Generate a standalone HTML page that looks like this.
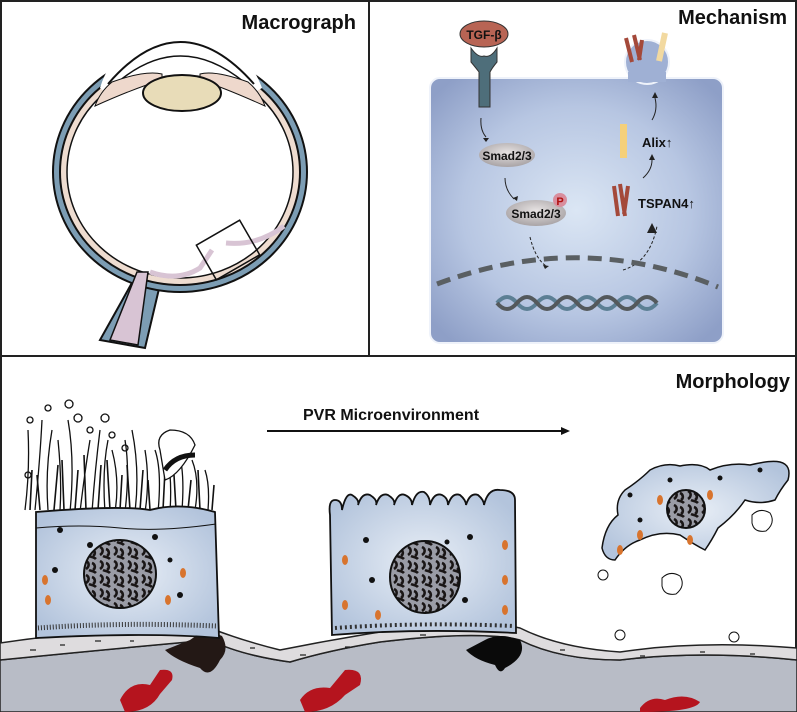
<!DOCTYPE html>
<html><head><meta charset="utf-8"><style>
html,body{margin:0;padding:0;background:#fff;}
svg{display:block;}
text{font-family:"Liberation Sans",sans-serif;font-weight:bold;}
</style></head><body>
<svg width="797" height="712" viewBox="0 0 797 712" xmlns="http://www.w3.org/2000/svg">
<defs>
<radialGradient id="cellg" cx="0.5" cy="0.5" r="0.65">
<stop offset="0" stop-color="#dbe6f4"/><stop offset="0.6" stop-color="#b7c6e2"/><stop offset="1" stop-color="#8e9fc7"/></radialGradient>
<radialGradient id="smad" cx="0.5" cy="0.4" r="0.6"><stop offset="0" stop-color="#e6e2e2"/><stop offset="1" stop-color="#a9a4a6"/></radialGradient>
<radialGradient id="rpe" cx="0.5" cy="0.5" r="0.6"><stop offset="0" stop-color="#e8eef6"/><stop offset="1" stop-color="#b3c4dc"/></radialGradient>
<pattern id="nuc" width="14" height="14" patternUnits="userSpaceOnUse"><rect width="14" height="14" fill="#9a9ca6"/><path d="M2 1c4 2 3 6 0 8M8 3c3 1 4 5 1 7M5 10c2 1 5 1 7 3" stroke="#1a1616" stroke-width="2.6" fill="none"/></pattern>
</defs>
<rect width="797" height="712" fill="#fff"/>
<rect x="1" y="1" width="795" height="710" fill="none" stroke="#222" stroke-width="2"/>
<line x1="369" y1="0" x2="369" y2="356" stroke="#222" stroke-width="2"/>
<line x1="0" y1="356" x2="797" y2="356" stroke="#222" stroke-width="2"/>

<!-- MACROGRAPH -->
<text x="356" y="29" font-size="20" text-anchor="end" fill="#111">Macrograph</text>
<g stroke="#111" stroke-width="2">
<path d="M138 272 L100 340 L145 348 L162 276 Z" fill="#7c9db4"/>
<ellipse cx="180" cy="172" rx="127" ry="120" fill="#7c9db4"/>
<ellipse cx="180" cy="172" rx="120" ry="113" fill="#eedcd0"/>
<ellipse cx="180" cy="172" rx="113" ry="106" fill="#fff" stroke-width="1.5"/>
<path d="M100 88 Q108 60 130 50 L230 50 Q252 60 262 88 L255 92 L105 92 Z" fill="#fff" stroke="none"/>
<path d="M108 84 Q180 0 254 84" fill="none"/>
<path d="M118 82 Q180 30 244 82" fill="none" stroke-width="1.5"/>
<path d="M112 82 Q145 70 162 74 L162 80 Q135 88 95 106 Q100 92 112 82 Z" fill="#eed8cc" stroke-width="1"/>
<path d="M248 82 Q215 70 200 74 L200 80 Q225 88 265 106 Q260 92 248 82 Z" fill="#eed8cc" stroke-width="1"/>
<ellipse cx="182" cy="93" rx="39" ry="18" fill="#e8dcb8"/>
<path d="M137 272 L110 340 L138 345 L148 272 Z" fill="#d8c4d4" stroke-width="1.5"/>
<path d="M150 272 Q178 282 200 268 L212 250" fill="none" stroke="#d8c4d4" stroke-width="5"/>
<path d="M226 243 Q258 246 284 226" fill="none" stroke="#d8c4d4" stroke-width="5"/>
<rect x="203" y="230" width="50" height="40" fill="none" stroke-width="1.5" transform="rotate(-30 228 250)"/>
</g>

<!-- MECHANISM -->
<text x="787" y="24" font-size="20" text-anchor="end" fill="#111">Mechanism</text>
<rect x="430" y="78" width="293" height="265" rx="10" fill="url(#cellg)" stroke="#eef2fa" stroke-width="2"/>
<circle cx="647" cy="62" r="22" fill="#9fb0d4" stroke="#eef2fa" stroke-width="2"/>
<rect x="628" y="72" width="38" height="10" fill="#9fb0d4"/>
<path d="M665 33 l-6 28" stroke="#f2d9a0" stroke-width="6"/>
<path d="M626 38 l6 24 M634 35 l6 25 M642 40 l-3 20" stroke="#a4493a" stroke-width="4"/>
<ellipse cx="484" cy="34" rx="24" ry="13" fill="#b86454" stroke="#333" stroke-width="1"/>
<text x="484" y="39" font-size="12" text-anchor="middle" fill="#111">TGF-β</text>
<path d="M471 48 Q478 58 484 56 Q491 58 497 48 L497 62 Q492 68 490 72 L490 107 L479 107 L479 72 Q476 68 471 62Z" fill="#4e6e7a" stroke="#333" stroke-width="1"/>
<g fill="none" stroke="#222" stroke-width="1">
<path d="M481 118 Q480 130 486 137"/><path d="M505 178 Q505 190 514 199"/>
<path d="M530 237 Q535 258 546 266" stroke-dasharray="3 2"/>
<path d="M623 270 Q650 262 657 226" stroke-dasharray="3 2"/>
<path d="M643 178 Q652 170 652 160"/><path d="M652 120 Q658 110 655 98"/>
</g>
<g fill="#222"><path d="M483 138l6 0-3 4z"/><path d="M513 198l5 -2 -1 5z"/><path d="M543 265l6 1-4 3z"/><path d="M652 223l-5 10h10z"/><path d="M649 160l6 0-3-6z"/><path d="M652 98l6 0-3-6z"/></g>
<ellipse cx="507" cy="155" rx="28" ry="12" fill="url(#smad)"/>
<text x="507" y="160" font-size="12" text-anchor="middle" fill="#111">Smad2/3</text>
<ellipse cx="536" cy="213" rx="30" ry="13" fill="url(#smad)"/>
<circle cx="560" cy="200" r="7" fill="#d88e9e"/>
<text x="560" y="205" font-size="11" text-anchor="middle" fill="#b01010">P</text>
<text x="536" y="218" font-size="12" text-anchor="middle" fill="#111">Smad2/3</text>
<rect x="620" y="124" width="7" height="34" fill="#f5d07a"/>
<text x="642" y="147" font-size="13" fill="#111">Alix↑</text>
<text x="638" y="208" font-size="13" fill="#111">TSPAN4↑</text>
<path d="M614 186 l4 30 M620 184 l5 32 M628 186 l-4 28" stroke="#a4493a" stroke-width="4"/>
<path d="M437 284 Q580 230 718 287" fill="none" stroke="#5a5f62" stroke-width="5" stroke-dasharray="14 8"/>
<g fill="none" stroke-width="4">
<path d="M497 303 q10 -12 20 0 t20 0 t20 0 t20 0 t20 0 t20 0 t20 0 t20 0" stroke="#5c7f94"/>
<path d="M497 303 q10 12 20 0 t20 0 t20 0 t20 0 t20 0 t20 0 t20 0 t20 0" stroke="#54595c"/>
</g>

<!-- MORPHOLOGY -->
<text x="790" y="388" font-size="20" text-anchor="end" fill="#111">Morphology</text>
<text x="303" y="420" font-size="16" fill="#111">PVR Microenvironment</text>
<line x1="267" y1="431" x2="565" y2="431" stroke="#111" stroke-width="2"/>
<path d="M570 431 l-9 -4 v8z" fill="#111"/>
<path d="M0 660 Q100 650 210 640 Q240 655 290 662 Q330 650 380 642 Q480 630 520 640 Q560 660 620 660 Q700 650 797 660 V712 H0Z" fill="#b8bcc6" stroke="#222" stroke-width="1.5"/>
<path d="M0 643 Q100 628 210 628 Q240 640 280 650 Q330 640 380 632 Q480 618 520 628 Q560 648 620 652 Q700 640 797 648 V660 Q700 650 620 660 Q560 660 520 640 Q480 630 380 642 Q330 650 290 662 Q240 655 210 640 Q100 650 0 660Z" fill="#dedcde" stroke="#222" stroke-width="1.5"/>
<g stroke="#222" stroke-width="1.2" fill="none"><path d="M30 650h6M60 645h5M95 641h6M130 641h4M250 648h5M300 655h6M345 647h5M420 635h6M560 650h5M640 656h5M700 652h5M750 654h5"/></g>
<path d="M190 640 Q205 628 222 636 Q230 650 220 660 Q210 680 200 668 Q175 660 165 650Z" fill="#231815"/>
<path d="M485 640 Q500 632 520 640 Q528 656 505 668 Q500 676 495 665 Q475 660 466 650Z" fill="#0a0a0a"/>
<path d="M120 700 Q130 680 150 685 L160 670 Q175 668 172 680 L160 694 Q150 712 125 712Z" fill="#b5141e"/>
<path d="M300 700 Q310 685 330 688 L345 670 Q365 668 360 685 L345 695 Q330 712 305 712Z" fill="#b5141e"/>
<path d="M640 708 Q650 695 665 700 Q685 692 700 702 Q695 712 640 712Z" fill="#b5141e"/>
<g stroke="#111" stroke-width="1.3" fill="none">
<path d="M25 510 Q30 470 28 430M35 510 Q40 460 42 420M48 510 Q45 470 52 430M60 510 Q62 480 58 440M70 512 Q75 460 68 420M80 512 Q85 470 90 440M92 512 Q95 470 100 430M105 512 Q102 470 108 440M115 512 Q120 480 112 450M125 512 Q130 470 125 440M135 512 Q140 470 132 430M145 512 Q150 480 145 450M158 512 Q162 470 155 450M170 512 Q172 480 168 460M182 510 Q185 470 178 450M195 510 Q200 480 192 460M208 510 Q210 485 205 470"/>
<path d="M30 510 l2-40M40 510 l-3-35M54 510 l4-45M64 510 l-2-50M75 510 l3-40M86 510 l-2-55M98 510 l3-45M110 510 l-3-50M120 510 l2-35M130 510 l-3-45M140 510 l3-40M150 510 l-2-30M163 510 l2-40M176 510 l-2-35M188 510 l3-30M200 510 l-2-40M212 510 l2-25" stroke-width="1.6"/>
<circle cx="30" cy="420" r="3"/><circle cx="48" cy="408" r="3"/><circle cx="69" cy="404" r="4"/><circle cx="78" cy="418" r="4"/><circle cx="90" cy="430" r="3"/><circle cx="28" cy="475" r="3"/><circle cx="105" cy="418" r="4"/><circle cx="112" cy="435" r="3"/><circle cx="125" cy="448" r="3"/>
<path d="M160 450 Q155 435 170 430 Q190 430 195 445 Q180 475 165 480 Z" fill="#fff"/>
<path d="M165 470 Q175 455 195 455" stroke-width="5"/>
</g>
<path d="M36 512 Q120 505 150 510 Q180 502 215 512 L219 638 Q150 632 36 638Z" fill="url(#rpe)" stroke="#111" stroke-width="1.8"/>
<path d="M36 528 Q80 524 120 528 T216 524" stroke="#111" fill="none" stroke-width="1"/>
<ellipse cx="120" cy="574" rx="36" ry="34" fill="url(#nuc)" stroke="#111" stroke-width="2"/>
<path d="M38 628 Q120 622 217 626" stroke="#333" stroke-width="5" stroke-dasharray="1 2" fill="none"/>
<path d="M330 515 Q328 500 335 500 Q342 500 342 510 Q346 492 352 495 Q360 500 358 505 Q362 492 370 495 Q378 500 376 505 Q380 492 388 495 Q396 500 394 505 Q398 492 405 495 Q412 498 412 505 Q416 490 424 492 Q430 496 430 505 Q434 492 442 495 Q448 498 448 505 Q452 492 460 495 Q466 500 466 505 Q470 492 478 495 Q484 500 484 505 Q488 488 500 490 Q515 490 515 500 L516 633 Q420 628 332 635Z" fill="url(#rpe)" stroke="#111" stroke-width="1.8"/>
<ellipse cx="425" cy="577" rx="35" ry="36" fill="url(#nuc)" stroke="#111" stroke-width="2"/>
<path d="M335 628 Q420 622 514 626" stroke="#333" stroke-width="4" stroke-dasharray="2 3" fill="none"/>
<path d="M602 548 Q605 525 618 515 Q615 500 625 490 Q640 480 650 470 Q665 462 680 466 Q700 462 710 470 Q730 462 750 465 Q770 460 780 462 Q792 465 788 480 Q780 490 775 500 Q760 505 745 500 Q735 515 718 528 Q712 540 705 550 Q695 545 680 535 Q660 530 640 540 Q625 545 615 560 Q605 560 602 548Z" fill="url(#rpe)" stroke="#111" stroke-width="1.5"/>
<circle cx="686" cy="509" r="19" fill="url(#nuc)" stroke="#111" stroke-width="2"/>
<g fill="#111"><circle cx="60" cy="530" r="3"/><circle cx="90" cy="545" r="3"/><circle cx="155" cy="537" r="3"/><circle cx="170" cy="560" r="2.5"/><circle cx="55" cy="570" r="3"/><circle cx="180" cy="595" r="3"/><circle cx="366" cy="540" r="3"/><circle cx="372" cy="580" r="3"/><circle cx="470" cy="537" r="3"/><circle cx="465" cy="600" r="3"/><circle cx="447" cy="542" r="2.5"/><circle cx="630" cy="495" r="2.5"/><circle cx="670" cy="480" r="2.5"/><circle cx="720" cy="478" r="2.5"/><circle cx="760" cy="470" r="2.5"/><circle cx="640" cy="520" r="2.5"/></g>
<g fill="#d8742e"><ellipse cx="45" cy="580" rx="3" ry="5"/><ellipse cx="183" cy="573" rx="3" ry="5"/><ellipse cx="168" cy="600" rx="3" ry="5"/><ellipse cx="48" cy="600" rx="3" ry="5"/><ellipse cx="345" cy="560" rx="3" ry="5"/><ellipse cx="345" cy="605" rx="3" ry="5"/><ellipse cx="378" cy="615" rx="3" ry="5"/><ellipse cx="505" cy="545" rx="3" ry="5"/><ellipse cx="505" cy="580" rx="3" ry="5"/><ellipse cx="505" cy="610" rx="3" ry="5"/><ellipse cx="640" cy="535" rx="3" ry="5"/><ellipse cx="660" cy="500" rx="3" ry="5"/><ellipse cx="710" cy="495" rx="3" ry="5"/><ellipse cx="690" cy="540" rx="3" ry="5"/><ellipse cx="620" cy="550" rx="3" ry="5"/></g>
<g fill="#fff" stroke="#111" stroke-width="1"><path d="M752 515 q8-8 18-2 q6 10-4 18 q-12 2-14-8z"/><path d="M662 578 q8-8 18-2 q6 10-4 18 q-12 2-14-8z"/><circle cx="603" cy="575" r="5"/><circle cx="620" cy="635" r="5"/><circle cx="734" cy="637" r="5"/></g>
</svg>
</body></html>
